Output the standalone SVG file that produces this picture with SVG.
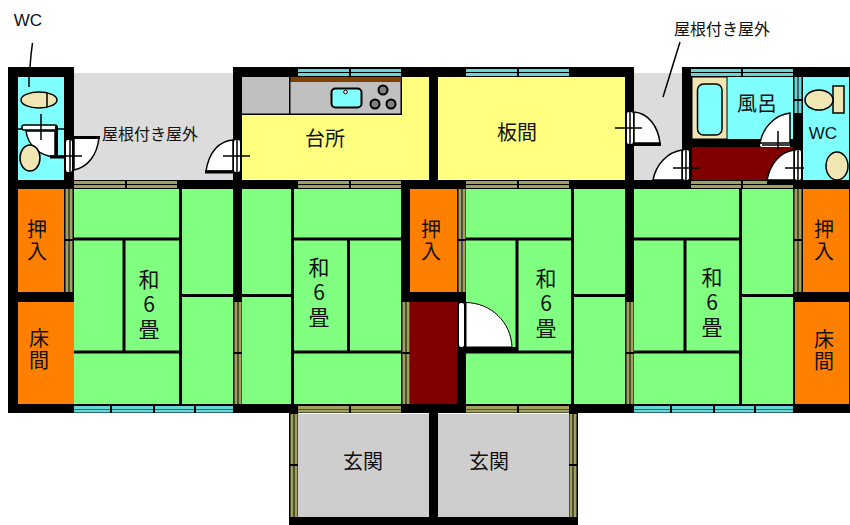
<svg xmlns="http://www.w3.org/2000/svg" width="850" height="525" viewBox="0 0 850 525">
<style>
text{font-family:"Noto Sans CJK JP","Noto Sans CJK SC",sans-serif;fill:#111;text-anchor:middle}
.s15{font-size:16px}.s20{font-size:20px}
.v2{font-size:20px;writing-mode:vertical-rl;text-orientation:upright;letter-spacing:2px}
.v3{font-size:21px;writing-mode:vertical-rl;text-orientation:upright;letter-spacing:4px}
.wc{font-family:"Liberation Sans",sans-serif;font-size:17px}
.tat{fill:#80ff80}.ora{fill:#ff8000}.mar{fill:#800000}.yel{fill:#ffff80}.cya{fill:#80ffff}.ent{fill:#cecece}.out{fill:#dcdcdc}
.bei{fill:#f0e6b4;stroke:#000;stroke-width:1.5}
.wal{fill:#000}
.ln{fill:none;stroke:#000;stroke-width:3}
.thin{fill:none;stroke:#000;stroke-width:1.5}
.win{fill:none;stroke:#66d6d6;stroke-width:3}
.sld{fill:none;stroke:#a0a060;stroke-width:3}
.leaf{fill:#fff;stroke:#000;stroke-width:1.5}
.str{fill:#fff}
</style>
<g id="yard"><rect class="out" x="74" y="73" width="160" height="108"/><rect class="out" x="634" y="73" width="49" height="108"/></g>
<g id="walls"><path class="wal" d="M8 67H74V77H8ZM8 67H18V413H8ZM64 67H74V302H64ZM8 180H850V189H8ZM233 67H242V413H233ZM233 67H634V77H233ZM429 67H438V189H429ZM625 67H634V413H625ZM682 67H692V189H682ZM682 67H850V77H682ZM793 77H803V413H793ZM8 404H850V413H8ZM8 292H74V302H8ZM401 180H410V413H401ZM457 180H466V413H457ZM410 292H466V302H410ZM793 292H850V302H793ZM849 67H850V413H849ZM692 139H762V147H692ZM790 113H803V150H790ZM429 413H438V517H429ZM289 517H578V525H289ZM289 413H298V517H289ZM569 413H578V517H569Z"/></g>
<g id="wc-left">
<rect class="cya" x="18" y="77" width="46" height="103"/>
<ellipse class="bei" cx="39" cy="100" rx="18" ry="8"/><path class="thin" d="M47 93V107"/>
<path class="leaf" d="M26 131H55V157C40 156 28 146 26 131Z"/>
<rect class="leaf" x="22" y="125" width="35" height="5" rx="2"/>
<ellipse class="bei" cx="30" cy="158" rx="10" ry="13"/>
<path class="ln" d="M56.500 126V158M50 157H66"/><path class="thin" d="M41 114V140M18 129H22M57 129H64"/>
</g>
<g id="kitchen">
<rect class="yel" x="242" y="77" width="187" height="102"/>
<rect x="242" y="77" width="160" height="38" fill="#000"/>
<rect x="242" y="77" width="47" height="36.500" fill="#c0c0c0"/>
<rect x="290.500" y="82" width="110" height="31.500" fill="#c0c0c0"/>
<rect x="290.500" y="77" width="110.500" height="5" fill="#804000"/>
<rect x="331.500" y="88.500" width="30" height="19" rx="4" class="cya" stroke="#000" stroke-width="2"/>
<circle cx="345.500" cy="92" r="1.800" fill="#fff" stroke="#000"/>
<g fill="#808080" stroke="#000" stroke-width="2"><circle cx="383" cy="90" r="4.500"/><circle cx="375" cy="104" r="4.500"/><circle cx="391" cy="104" r="4.500"/></g>
<text class="s20" x="325" y="146">台所</text>
</g>
<g id="itama"><rect class="yel" x="438" y="77" width="187" height="102"/><text class="s20" x="517" y="140">板間</text></g>
<g id="bath">
<rect class="cya" x="692" y="77" width="101" height="62"/>
<rect x="692" y="77" width="35" height="62" fill="#f0e6b4" stroke="#000" stroke-width="1"/>
<rect class="cya" x="697.500" y="84" width="24.500" height="51" rx="6" stroke="#000" stroke-width="1.500"/>
<text class="s20" x="757" y="111">風呂</text>
</g>
<g id="hall"><rect class="mar" x="692" y="147" width="101" height="33"/></g>
<g id="wc-right">
<rect class="cya" x="803" y="77" width="46" height="103"/>
<rect class="bei" x="833" y="86" width="11" height="27"/><ellipse class="bei" cx="819" cy="100" rx="14" ry="10"/>
<ellipse class="bei" cx="837" cy="166" rx="11" ry="14"/>
<text class="wc" x="823" y="139">WC</text>
</g>
<g id="closet-1"><rect class="ora" x="18" y="189" width="46" height="103"/><text class="v2" x="37" y="241">押入</text></g>
<g id="alcove-1"><rect class="ora" x="18" y="302" width="56" height="102"/><text class="v2" x="39" y="350">床間</text></g>
<g id="room-1">
<rect class="tat" x="74" y="189" width="159" height="215"/>
<path class="ln" d="M180.500 189V404M74 239H180M74 352H180M124 239V352M180 295.500H233"/>
<text class="v3" x="149" y="306">和6畳</text>
</g>
<g id="room-2">
<rect class="tat" x="242" y="189" width="159" height="215"/>
<path class="ln" d="M292.500 189V404M292 239H401M292 352H401M348.500 239V352M242 295.500H292"/>
<text class="v3" x="319" y="294">和6畳</text>
</g>
<g id="closet-2"><rect class="ora" x="410" y="189" width="47" height="103"/><text class="v2" x="431" y="241">押入</text></g>
<g id="closet-3"><rect class="mar" x="410" y="302" width="47" height="102"/></g>
<g id="room-3">
<rect class="tat" x="466" y="189" width="159" height="215"/>
<path class="ln" d="M572.500 189V404M466 239H572M466 352H572M517 239V352M572 295.500H625"/>
<path class="wal" d="M466 347H516V353H466Z"/>
<path d="M466 302.500C491 303 511 322 512 347H466Z" fill="#fff" stroke="#000"/>
<text class="v3" x="546" y="305">和6畳</text>
</g>
<g id="room-4">
<rect class="tat" x="634" y="189" width="159" height="215"/>
<path class="ln" d="M740.500 189V404M634 239H740M634 352H740M685 239V352M740 295.500H793"/>
<text class="v3" x="712" y="304">和6畳</text>
</g>
<g id="closet-4"><rect class="ora" x="803" y="189" width="46" height="103"/><text class="v2" x="824" y="241">押入</text></g>
<g id="alcove-2"><rect class="ora" x="795" y="302" width="54" height="102"/><text class="v2" x="824" y="351">床間</text></g>
<g id="entry-1"><rect class="ent" x="298" y="414" width="131" height="103"/><text class="s20" x="363" y="469">玄関</text></g>
<g id="entry-2"><rect class="ent" x="438" y="414" width="131" height="103"/><text class="s20" x="489" y="469">玄関</text></g>
<g id="windows">
<path class="win" d="M298 70.500H349M351 70.500H401M298 74.500H349M351 74.500H401M466 70.500H517M519 70.500H569M466 74.500H517M519 74.500H569M691 70.500H741M743 70.500H793M691 74.500H741M743 74.500H793M74 407.500H110M112 407.500H153M155 407.500H194M196 407.500H233M74 411H110M112 411H153M155 411H194M196 411H233M634 407.500H670M672 407.500H713M715 407.500H754M756 407.500H793M634 411H670M672 411H713M715 411H754M756 411H793M796 77V99M796 101V113M800 77V99M800 101V113"/>
<path class="sld" d="M74 182.500H125M127 182.500H177M74 186.500H125M127 186.500H177M298 182.500H349M351 182.500H401M298 186.500H349M351 186.500H401M466 182.500H517M519 182.500H569M466 186.500H517M519 186.500H569M691 182.500H741M743 182.500H767M691 186.500H741M743 186.500H793M298 407.500H349M351 407.500H401M298 411H349M351 411H401M466 407.500H517M519 407.500H569M466 411H517M519 411H569M67 189V239M67 241V292M71 189V239M71 241V292M460 189V239M460 241V292M464 189V239M464 241V292M796 189V239M796 241V292M800 189V239M800 241V292M236 302V352M236 354V404M240 302V352M240 354V404M404 302V352M404 354V404M408 302V352M408 354V404M628 302V352M628 354V404M632 302V352M632 354V404M292 414V464M292 466V517M296 414V464M296 466V517M571 414V464M571 466V517M575 414V464M575 466V517"/>
</g>
<g id="doors">
<rect class="str" x="66" y="140" width="6" height="32" rx="2"/><rect class="str" x="234" y="140" width="6" height="32" rx="2"/><rect class="str" x="627" y="112" width="6" height="32" rx="2"/><rect class="str" x="683" y="150" width="6" height="30" rx="2"/><rect class="str" x="795" y="150" width="6" height="30" rx="2"/><rect class="str" x="459" y="303" width="5" height="44" rx="2"/><rect class="str" x="760" y="143" width="30" height="4" rx="2"/>
<path class="leaf" d="M74 138H99C97 155 88 167 74 170Z"/><path class="ln" d="M74 137.500H100"/>
<path class="leaf" d="M233 140C219 141 209 152 206 171H233Z"/><path class="ln" d="M205 172H233"/>
<path class="leaf" d="M634 112C648 113 658 126 660 143H634Z"/><path class="ln" d="M634 144.500H661"/>
<path class="leaf" d="M682 150C668 152 656 164 653 180H682Z"/>
<path class="leaf" d="M794 150C780 152 770 164 767 180H794Z"/>
<path class="leaf" d="M790 113C775 115 763 127 760 143H790Z"/>
<path class="thin" d="M50 156H82M70 140V172M223 156H250M237 140V172M615 128H642M630 112V144M673 168H700M686 150V180M785 168H804M798 150V180M778 131V149M762 145H790"/>
</g>
<g id="labels">
<text class="wc" x="28" y="26">WC</text>
<path class="thin" d="M32.500 43L31 55L30 67M29 77V87M680 42L663 97"/>
<text class="s15" x="150" y="140">屋根付き屋外</text>
<text class="s15" x="722" y="35">屋根付き屋外</text>
</g>
</svg>
